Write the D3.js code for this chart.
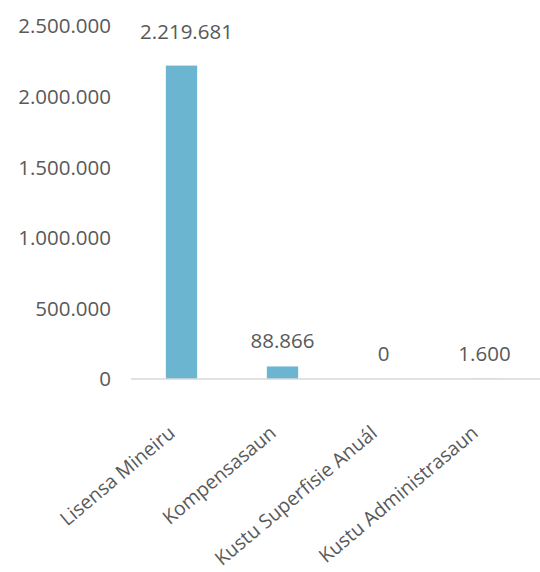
<!DOCTYPE html>
<html>
<head>
<meta charset="utf-8">
<script src="https://cdn.jsdelivr.net/npm/d3@7"></script>
<style>
  body { margin: 0; background: #fff; }
  text { font-family: "Open Sans", sans-serif; fill: #595959; }
</style>
</head>
<body>
<svg id="chart" width="540" height="572"></svg>
<script>
// Chart data
const categories = ["Lisensa Mineiru", "Kompensasaun", "Kustu Superfisie Anuál", "Kustu Administrasaun"];
const values = [2219681, 88866, 0, 1600];
const yTicks = [0, 500000, 1000000, 1500000, 2000000, 2500000];

// Thousands separated with dots
const fmt = v => d3.format(",")(v).replace(/,/g, ".");

const svg = d3.select("#chart");

const x = d3.scaleBand()
  .domain(categories)
  .range([131, 535])
  .paddingInner(0.69)
  .paddingOuter(0.345);

const y = d3.scaleLinear()
  .domain([0, 2500000])
  .range([379, 26]);

// Y tick labels (no gridlines, no axis line)
svg.append("g")
  .selectAll("text")
  .data(yTicks)
  .join("text")
  .attr("x", 111)
  .attr("y", d => y(d))
  .attr("dy", "0.36em")
  .attr("text-anchor", "end")
  .attr("font-size", 20.5)
  .text(fmt);

// Bars
svg.append("g")
  .selectAll("rect")
  .data(values)
  .join("rect")
  .attr("x", (d, i) => x(categories[i]))
  .attr("y", d => y(d))
  .attr("width", x.bandwidth())
  .attr("height", d => y(0) - y(d))
  .attr("fill", "#6bb5d1");

// Category axis line
svg.append("line")
  .attr("x1", 131)
  .attr("x2", 540)
  .attr("y1", y(0))
  .attr("y2", y(0))
  .attr("stroke", "#d9d9d9")
  .attr("stroke-width", 1.5);

// Data labels
svg.append("g")
  .selectAll("text")
  .data(values)
  .join("text")
  .attr("x", (d, i) => x(categories[i]) + x.bandwidth() / 2 + (i === 0 ? 5 : 0))
  .attr("y", (d, i) => y(d) - (i === 0 ? 27 : 18))
  .attr("text-anchor", "middle")
  .attr("font-size", 20.5)
  .text(fmt);

// Rotated category labels
svg.append("g")
  .selectAll("text")
  .data(categories)
  .join("text")
  .attr("transform", d => `translate(${x(d) + x.bandwidth() / 2 - 5},${y(0) + 56}) rotate(-40)`)
  .attr("text-anchor", "end")
  .attr("font-size", 19.5)
  .text(d => d);
</script>
</body>
</html>
